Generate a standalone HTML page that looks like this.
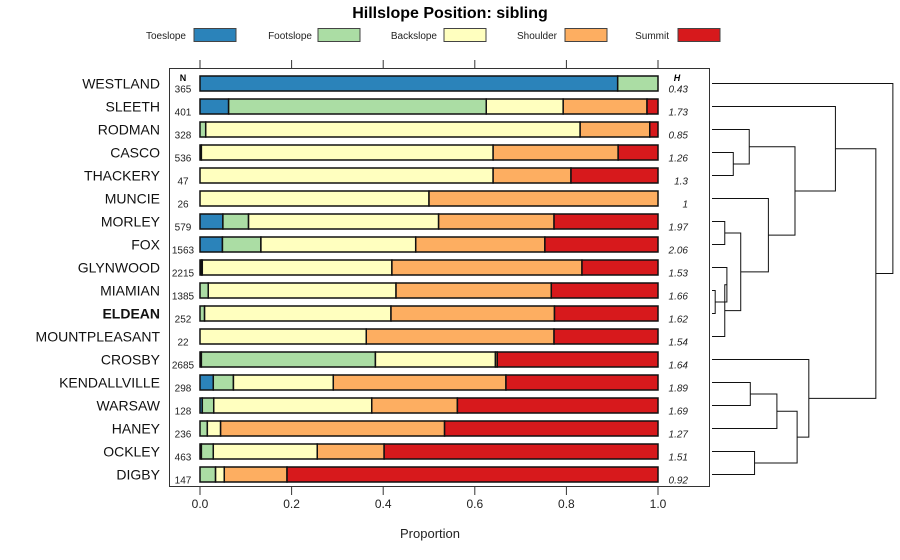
<!DOCTYPE html>
<html><head><meta charset="utf-8"><style>
body{margin:0;background:#fff;}
svg{display:block;font-family:"Liberation Sans",sans-serif;}
</style></head><body>
<svg id="c" width="900" height="560" viewBox="0 0 900 560"></svg>
<script>
const categories=["WESTLAND","SLEETH","RODMAN","CASCO","THACKERY","MUNCIE","MORLEY","FOX","GLYNWOOD","MIAMIAN","ELDEAN","MOUNTPLEASANT","CROSBY","KENDALLVILLE","WARSAW","HANEY","OCKLEY","DIGBY"];
const nValues=[365,401,328,536,47,26,579,1563,2215,1385,252,22,2685,298,128,236,463,147];
const hValues=["0.43","1.73","0.85","1.26","1.3","1","1.97","2.06","1.53","1.66","1.62","1.54","1.64","1.89","1.69","1.27","1.51","0.92"];
const seriesNames=["Toeslope","Footslope","Backslope","Shoulder","Summit"];
const toeslope=[0.912,0.0625,0,0.003,0,0,0.05,0.049,0.003,0,0,0,0.003,0.029,0.005,0,0.003,0];
const footslope=[0.088,0.5625,0.0125,0,0,0,0.056,0.084,0.002,0.018,0.010,0,0.380,0.044,0.025,0.016,0.026,0.034];
const backslope=[0,0.168,0.8175,0.637,0.640,0.50,0.415,0.338,0.414,0.410,0.407,0.363,0.262,0.218,0.345,0.029,0.227,0.019];
const shoulder=[0,0.183,0.152,0.273,0.170,0.50,0.252,0.282,0.415,0.339,0.357,0.410,0.004,0.377,0.187,0.489,0.146,0.137];
const summit=[0,0.024,0.018,0.087,0.190,0,0.227,0.247,0.166,0.233,0.226,0.227,0.351,0.332,0.438,0.466,0.598,0.810];
const xTicks=[0,0.2,0.4,0.6,0.8,1.0];
const xTickLabels=["0.0","0.2","0.4","0.6","0.8","1.0"];
// dendrogram merges: [childA, childB, height]; negative = leaf index, positive = merge id (1-based)
const merges=[[-9,-10,0.03],[-3,-4,0.20],[-6,-7,0.12],[-16,-17,0.40],[-8,1,0.14],[-11,5,0.12],[-13,-14,0.36],[-2,2,0.35],[3,6,0.27],[-5,9,0.53],[7,-15,0.61],[8,10,0.78],[11,4,0.80],[-12,13,0.91],[-1,12,1.16],[15,14,1.54],[-0,16,1.70]];
const colors=["#2B83BA","#ABDDA4","#FFFFBF","#FDAE61","#D7191C"];
const svg=document.getElementById('c');const NS="http://www.w3.org/2000/svg";
function mk(t,a,p){const e=document.createElementNS(NS,t);for(const k in a)e.setAttribute(k,a[k]);(p||svg).appendChild(e);return e;}
const X0=200,X1=658;const xs=v=>X0+(X1-X0)*v;
const rowY=i=>83.5+23*i;const BH=15;
let t=mk('text',{x:450,y:18,'text-anchor':'middle','font-size':16,'font-weight':'bold'});t.textContent="Hillslope Position: sibling";

const lg=[[186,194],[312,318],[437,444],[557,565],[669,678]];
seriesNames.forEach((s,j)=>{const g=mk('g',{});

const tx=mk('text',{x:lg[j][0],y:39,'text-anchor':'end','font-size':10,fill:'#222'},g);tx.textContent=s;
mk('rect',{x:lg[j][1],y:28.5,width:42,height:13,fill:colors[j],stroke:'#444','stroke-width':1},g);});
const fr=mk('rect',{x:169.5,y:68.5,width:540,height:418,fill:'none',stroke:'#333','stroke-width':1});

xTicks.forEach((v,i)=>{const x=xs(v);mk('line',{x1:x,x2:x,y1:60,y2:68.5,stroke:'#333'});mk('line',{x1:x,x2:x,y1:486.5,y2:495,stroke:'#333'});
const l=mk('text',{x:x,y:508,'text-anchor':'middle','font-size':12,fill:'#222'});l.textContent=xTickLabels[i];
});
t=mk('text',{x:430,y:538,'text-anchor':'middle','font-size':13,fill:'#222'});t.textContent="Proportion";

const series=[toeslope,footslope,backslope,shoulder,summit];
let tn=mk('text',{x:183,y:81,'text-anchor':'middle','font-size':9,'font-weight':'bold'});tn.textContent="N";

let th=mk('text',{x:677,y:81,'text-anchor':'middle','font-size':9,'font-weight':'bold','font-style':'italic'});th.textContent="H";

categories.forEach((c,i)=>{const y=rowY(i);
const lab=mk('text',{x:160,y:y+5,'text-anchor':'end','font-size':14,fill:'#111','font-weight':c==="ELDEAN"?'bold':'normal'});lab.textContent=c;

const n=mk('text',{x:183,y:y+9,'text-anchor':'middle','font-size':10,fill:'#222'});n.textContent=nValues[i];

const h=mk('text',{x:688,y:y+9,'text-anchor':'end','font-size':10,'font-style':'italic',fill:'#222'});h.textContent=hValues[i];

let cum=0;series.forEach((s,j)=>{const v=s[i];if(v<=0)return;
const r=mk('rect',{x:xs(cum),y:y-BH/2,width:xs(cum+v)-xs(cum),height:BH,fill:colors[j],stroke:'#111','stroke-width':1.5});
cum+=v;});});
// dendrogram
const DX0=712,DS=(895-712)/1.72;const dx=h=>DX0+h*DS;
const nodes=[];const pos=k=>k<=0?{y:rowY(-k),h:0}:nodes[k-1];
merges.forEach(m=>{const a=pos(m[0]),b=pos(m[1]),hx=dx(m[2]);
const p=mk('path',{d:`M${dx(a.h)},${a.y}H${hx}V${b.y}H${dx(b.h)}`,fill:'none',stroke:'#111','stroke-width':1});

nodes.push({y:(a.y+b.y)/2,h:m[2]});});
</script>
</body></html>
